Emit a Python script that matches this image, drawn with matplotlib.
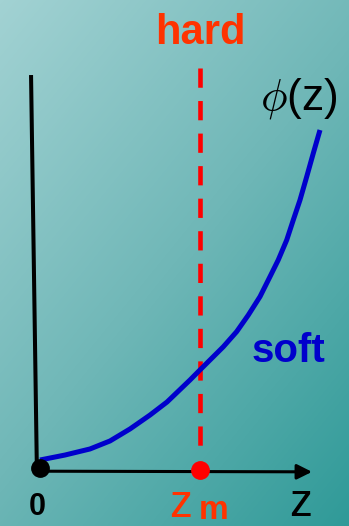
import numpy as np
import matplotlib
matplotlib.use("Agg")
import matplotlib.pyplot as plt
from matplotlib.colors import LinearSegmentedColormap

plt.rcParams['font.family'] = ['Liberation Sans', 'DejaVu Sans']
plt.rcParams['mathtext.fontset'] = 'cm'

# ---- data (z in units of z_m, phi in same units) ----
z_curve = [0.0, 0.156, 0.3125, 0.4375, 0.5625, 0.6875, 0.794, 0.9375, 0.989,
           1.0625, 1.146, 1.229, 1.302, 1.375, 1.4375, 1.489, 1.542, 1.583,
           1.625, 1.667, 1.708, 1.75]
phi_curve = [0.05, 0.081, 0.119, 0.169, 0.244, 0.331, 0.4125, 0.55, 0.602,
             0.675, 0.758, 0.852, 0.956, 1.071, 1.196, 1.30, 1.425, 1.55,
             1.675, 1.821, 1.967, 2.1125]
z_m = 1.0
axis_labels = ["0", "z", "m", "Z"]
curve_label = "$\\phi$(z)"
hard_label = "hard"
soft_label = "soft"

W, H = 349, 526
fig = plt.figure(figsize=(W / 100, H / 100), dpi=100)

# background gradient
bg = fig.add_axes([0, 0, 1, 1])
yy, xx = np.mgrid[0:H, 0:W]
t = (xx / W * 0.45 + yy / H * 0.55)
cmap = LinearSegmentedColormap.from_list("bg", ["#a2d2d3", "#6fb7b7", "#2f9a98"])
bg.imshow(t, cmap=cmap, aspect='auto', extent=[0, 1, 0, 1], origin='upper')
bg.set_axis_off()

ax = fig.add_axes([0, 0, 1, 1])
ax.patch.set_alpha(0)
ax.set_xlim(-0.25, 1.93125)
ax.set_ylim(-0.3625, 2.925)
ax.set_axis_off()

# vertical axis
ax.plot([-0.056, -0.02], [2.456, 0.02], color='black', lw=2.9, solid_capstyle='butt', zorder=3)
# horizontal axis arrow
ax.annotate("", xy=(1.70, -0.024), xytext=(0.0, -0.02),
            arrowprops=dict(arrowstyle="-|>,head_length=0.9,head_width=0.45",
                            color='black', lw=2.2, shrinkA=0, shrinkB=0), zorder=3)

# hard wall (dashed)
ax.plot([z_m, z_m], [2.5, 0.12], color='#ff0000', lw=3.3,
        linestyle=(0, (4.2, 2.9)), zorder=2)

# soft potential
ax.plot(z_curve, phi_curve, color='#0000cc', lw=3.6, solid_capstyle='butt',
        solid_joinstyle='round', zorder=4)

# dots
ax.plot([0.0], [0.0], 'o', color='black', ms=12.5, zorder=5)
ax.plot([z_m], [-0.0125], 'o', color='#ff0000', ms=12.5, zorder=5)

# texts
ax.text(z_m, 2.65, hard_label, color='#ff3300', fontsize=30, fontweight='bold',
        ha='center', va='baseline')
ax.text(1.375, 2.2375, curve_label, color='black', fontsize=32, ha='left', va='baseline')
ax.text(1.55, 0.6625, soft_label, color='#0000cc', fontsize=29, fontweight='bold',
        ha='center', va='baseline')
ax.text(-0.019, -0.294, axis_labels[0], color='black', fontsize=22, fontweight='bold',
        ha='center', va='baseline')
ax.text(0.81, -0.306, axis_labels[1], color='#ff3300', fontsize=33, ha='left', va='baseline')
ax.text(0.99, -0.32, axis_labels[2], color='#ff3300', fontsize=24, fontweight='bold',
        ha='left', va='baseline')
ax.text(1.56, -0.30, axis_labels[1], color='black', fontsize=33, ha='left', va='baseline')

fig.savefig("out.png", dpi=100)
